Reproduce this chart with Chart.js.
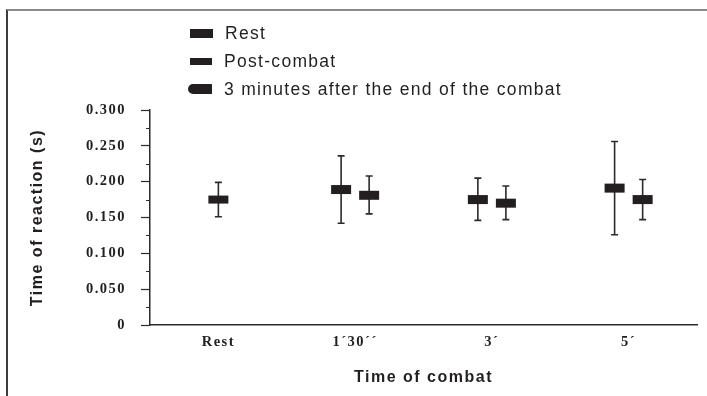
<!DOCTYPE html>
<html>
<head>
<meta charset="utf-8">
<script src="https://cdn.jsdelivr.net/npm/chart.js@4.4.1/dist/chart.umd.min.js"></script>
<style>
  body { margin: 0; background: #fff; }
  #wrap { position: relative; width: 707px; height: 396px; overflow: hidden; }
  #chart { position: absolute; left: 0; top: 0; }
  #frame {
    position: absolute; left: 6px; top: 9px; width: 720px; height: 400px;
    border-top: 2px solid #8c8c8c; border-left: 2px solid #3c3c3c;
    pointer-events: none;
  }
  #legend {
    position: absolute; left: 190px; top: 19px;
    font-family: "Liberation Sans", Arial, sans-serif; font-size: 17.5px;
    letter-spacing: 1.3px; color: #231f20;
  }
  .row { display: flex; align-items: center; height: 28px; white-space: nowrap; }
  .box { width: 23px; height: 9px; background: #231f20; margin-right: 12px; }
</style>
</head>
<body>
<div id="wrap">
  <div id="frame"></div>
  <canvas id="chart" width="707" height="396"></canvas>
  <div id="legend"></div>
</div>
<script>
const categories = ['Rest', '1´30´´', '3´', '5´'];
const seriesNames = ['Rest', 'Post-combat', '3 minutes after the end of the combat'];

// means and error bar ends
const restMean = [0.175, null, null, null];
const restLow = [0.151, null, null, null];
const restHigh = [0.199, null, null, null];

const postMean = [null, 0.189, 0.175, 0.191];
const postLow = [null, 0.142, 0.146, 0.126];
const postHigh = [null, 0.236, 0.205, 0.256];

const afterMean = [null, 0.181, 0.170, 0.175];
const afterLow = [null, 0.155, 0.147, 0.147];
const afterHigh = [null, 0.208, 0.194, 0.203];

const yTickValues = [0, 0.05, 0.1, 0.15, 0.2, 0.25, 0.3];
const yTickLabels = ['0', '0.050', '0.100', '0.150', '0.200', '0.250', '0.300'];
const yMinorTicks = [0.025, 0.075, 0.125, 0.175, 0.225, 0.275];

const lows = [restLow, postLow, afterLow];
const highs = [restHigh, postHigh, afterHigh];
const ink = '#231f20';

// legend (html)
const legendEl = document.getElementById('legend');
const boxStyles = [
    'width:23px;height:9px;',
    'width:22px;height:7px;',
    'width:24px;height:10px;border-radius:6px 1px 1px 6px;margin-left:-2px;'
];
seriesNames.forEach((name, i) => {
    const row = document.createElement('div');
    row.className = 'row';
    row.innerHTML = `<span class="box" style="${boxStyles[i]}"></span><span>${name}</span>`;
    legendEl.appendChild(row);
});

const errorBars = {
    id: 'errorBars',
    beforeDraw(chart) {
        chart.ctx.letterSpacing = '1.5px';
    },
    afterDatasetsDraw(chart) {
        const ctx = chart.ctx;
        const y = chart.scales.y;
        ctx.save();
        ctx.letterSpacing = '0px';
        chart.data.datasets.forEach((ds, i) => {
            const meta = chart.getDatasetMeta(i);
            meta.data.forEach((bar, j) => {
                if (ds.data[j] === null) return;
                const x = bar.x;
                const yMid = y.getPixelForValue(ds.data[j]);
                const yLo = y.getPixelForValue(lows[i][j]);
                const yHi = y.getPixelForValue(highs[i][j]);
                ctx.strokeStyle = '#2b2b2b';
                ctx.lineWidth = 1.6;
                ctx.beginPath();
                ctx.moveTo(x, yHi);
                ctx.lineTo(x, yLo);
                ctx.moveTo(x - 3.5, yHi);
                ctx.lineTo(x + 3.5, yHi);
                ctx.moveTo(x - 3.5, yLo);
                ctx.lineTo(x + 3.5, yLo);
                ctx.stroke();
                const w = 20, h = i === 0 ? 8 : 9;
                ctx.fillStyle = ink;
                ctx.fillRect(x - w / 2, yMid - h / 2, w, h);
            });
        });
        // minor ticks on the y axis
        ctx.strokeStyle = '#2b2b2b';
        ctx.lineWidth = 1.2;
        ctx.beginPath();
        yMinorTicks.forEach(v => {
            const py = Math.round(y.getPixelForValue(v)) + 0.5;
            ctx.moveTo(y.right - 4, py);
            ctx.lineTo(y.right, py);
        });
        ctx.stroke();
        ctx.restore();
    }
};

new Chart(document.getElementById('chart'), {
    type: 'bar',
    data: {
        labels: categories,
        datasets: [
            { label: seriesNames[0], data: restMean },
            { label: seriesNames[1], data: postMean },
            { label: seriesNames[2], data: afterMean }
        ].map(d => Object.assign(d, {
            backgroundColor: 'rgba(0,0,0,0)',
            borderWidth: 0,
            skipNull: true,
            categoryPercentage: 0.41,
            barPercentage: 1
        }))
    },
    options: {
        responsive: false,
        devicePixelRatio: 1,
        animation: false,
        layout: { padding: { left: 10, right: 10, top: 110, bottom: 0 } },
        plugins: {
            legend: { display: false },
            tooltip: { enabled: false }
        },
        scales: {
            x: {
                offset: true,
                grid: { display: false },
                border: { display: true, color: '#2b2b2b', width: 1.5 },
                ticks: {
                    color: ink,
                    padding: 1,
                    font: { family: '"Liberation Serif", "Times New Roman", serif', size: 14.5, weight: 'bold' }
                },
                title: {
                    display: true,
                    text: 'Time of combat',
                    color: ink,
                    padding: { top: 0, bottom: 9 },
                    font: { family: '"Liberation Sans", Arial, sans-serif', size: 16, weight: 'bold' }
                },
                afterFit(scale) { scale.height = 71; }
            },
            y: {
                min: 0,
                max: 0.3,
                afterBuildTicks(scale) {
                    scale.ticks = yTickValues.map(v => ({ value: v }));
                },
                grid: { drawOnChartArea: false, tickLength: 9, tickColor: '#2b2b2b', tickWidth: 1.2 },
                border: { display: true, color: '#2b2b2b', width: 1.5 },
                ticks: {
                    color: ink,
                    padding: 15,
                    callback: (v, i) => yTickLabels[i],
                    font: { family: '"Liberation Serif", "Times New Roman", serif', size: 14.5, weight: 'bold' }
                },
                title: {
                    display: true,
                    text: 'Time of reaction (s)',
                    color: ink,
                    padding: { top: 18, bottom: 0 },
                    font: { family: '"Liberation Sans", Arial, sans-serif', size: 16, weight: 'bold' }
                },
                afterFit(scale) { scale.width = 140; }
            }
        }
    },
    plugins: [errorBars]
});
</script>
</body>
</html>
